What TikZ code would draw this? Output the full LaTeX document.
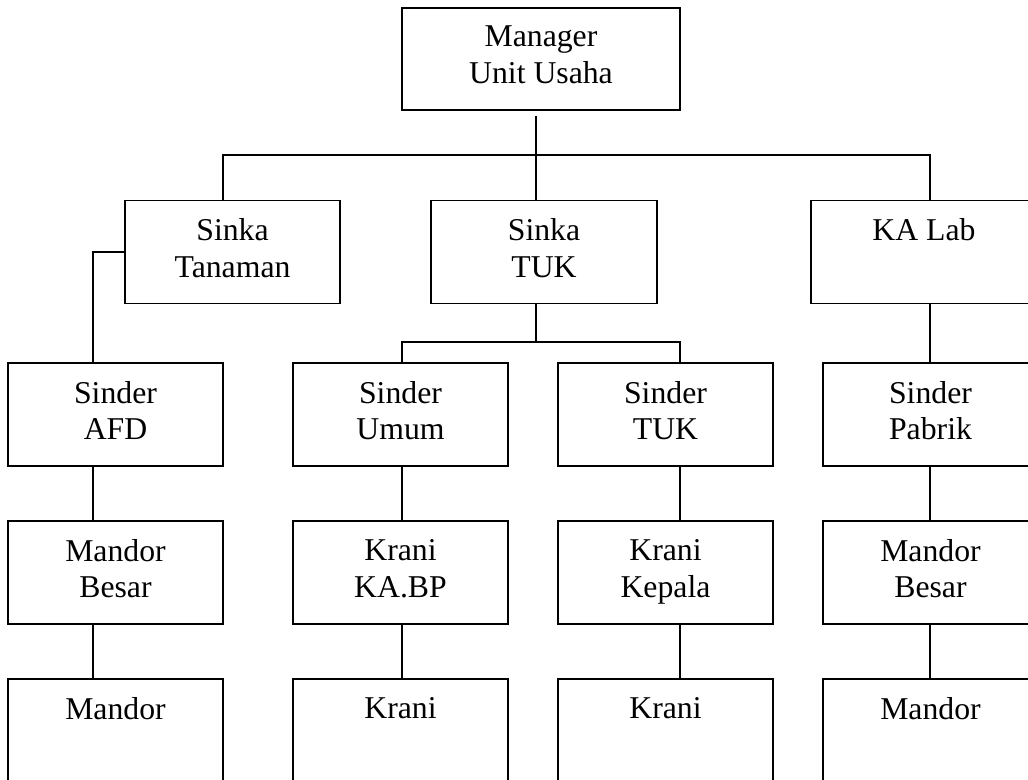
\documentclass[tikz,border=0pt]{standalone}
\usepackage{fontspec}
\setmainfont{Liberation Serif}
\begin{document}
\begin{tikzpicture}[x=0.75pt, y=-0.75pt, line width=1pt,
    box/.style={draw, align=center, inner sep=0pt, minimum width=161.25pt, minimum height=77.25pt,
                font=\fontsize{23.8pt}{27.6pt}\selectfont,
                execute at begin node=\rule{0pt}{29pt}, execute at end node=\rule[-6pt]{0pt}{6pt}},
    wide/.style={minimum width=169.5pt}]

    % ==================== 画布 ====================
    \clip (0,0) rectangle (1028,780);
    \fill[white] (0,0) rectangle (1028,780);

    % ==================== 方框 ====================
    \node[box, minimum width=208.5pt, minimum height=76.5pt] (mgr) at (541,59) {Manager\\Unit Usaha};

    \node[box] (sTan) at (232.5,252) {Sinka\\Tanaman};
    \node[box, wide] (sTuk) at (544,252) {Sinka\\TUK};
    \node[box, wide] (kaLab) at (924,252) {KA Lab\\\mbox{}};

    \node[box] (afd) at (115.5,414.5) {Sinder\\AFD};
    \node[box] (umum) at (400.5,414.5) {Sinder\\Umum};
    \node[box] (stk) at (665.5,414.5) {Sinder\\TUK};
    \node[box] (pabrik) at (930.5,414.5) {Sinder\\Pabrik};

    \node[box] (mbA) at (115.5,572.5) {Mandor\\Besar};
    \node[box] (kbp) at (400.5,572.5) {Krani\\KA.BP};
    \node[box] (kk) at (665.5,572.5) {Krani\\Kepala};
    \node[box] (mbB) at (930.5,572.5) {Mandor\\Besar};

    \node[box] (mA) at (115.5,730.5) {Mandor\\\mbox{}};
    \node[box] (kr1) at (400.5,730.5) {Krani\\\mbox{}};
    \node[box] (kr2) at (665.5,730.5) {Krani\\\mbox{}};
    \node[box] (mB) at (930.5,730.5) {Mandor\\\mbox{}};

    % ==================== 连线 ====================
    \coordinate (xA) at (223,155);
    \coordinate (xB) at (536,155);
    \coordinate (xC) at (930,155);
    \coordinate (xD) at (93,0);
    \coordinate (xE) at (402,342);
    \coordinate (xF) at (680,342);

    \draw[shorten <=3.75pt] (mgr.south -| xB) -- (sTuk.north -| xB);
    \draw (sTan.north -| xA) -- (xA) -- (xC) -- (kaLab.north -| xC);
    \draw (sTan.west) -| (afd.north -| xD);
    \draw (sTuk.south -| xB) -- (xB |- xE);
    \draw (umum.north -| xE) -- (xE) -- (xF) -- (stk.north -| xF);

    \foreach \a/\b/\c in {afd/mbA/xD, mbA/mA/xD, umum/kbp/xE, kbp/kr1/xE,
                          stk/kk/xF, kk/kr2/xF, kaLab/pabrik/xC, pabrik/mbB/xC, mbB/mB/xC}
        \draw (\a.south -| \c) -- (\b.north -| \c);

\end{tikzpicture}
\end{document}
